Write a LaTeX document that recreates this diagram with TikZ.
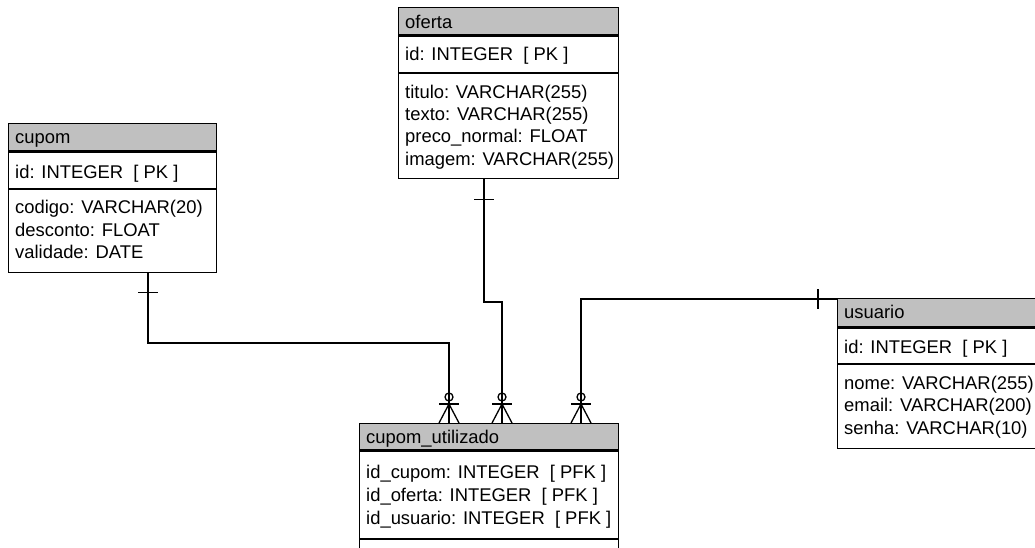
\documentclass[tikz,border=0pt]{standalone}
\usepackage{fontspec}
\setmainfont{Liberation Sans}
\usetikzlibrary{calc}
\tikzset{
  ln/.style={line width=1.3pt, line cap=rect, line join=miter},
  box/.style={ln, draw, fill=white, inner sep=0pt, anchor=north west},
  hdr/.style={ln, draw, fill=hdrgray, inner sep=0pt, anchor=north west},
  sect/.style={ln, draw, inner sep=0pt, anchor=north west},
  txt/.style={inner sep=0pt, anchor=base west, font=\fontsize{18.4}{22}\selectfont},
  rel/.style={ln, line cap=butt},
  manyopt/.pic={
    \draw[rel] (0,-26) circle[radius=4pt];
    \draw[rel] (-10,-19) -- (10,-19);
    \draw[rel] (-10,0) -- (0,-19) -- (10,0);
  }
}
\definecolor{hdrgray}{RGB}{192,192,192}
\begin{document}
\begin{tikzpicture}[x=1pt,y=-1pt]
\useasboundingbox (0,0) rectangle (1035,547);
\clip (0,0) rectangle (1035,547);
\fill[white] (0,0) rectangle (1035,547);

% ---- oferta ----
\node[box, minimum width=220pt, minimum height=171pt] (oferta) at (398,7) {};
\node[hdr, minimum width=220pt, minimum height=27pt] (oferta-h) at (oferta.north west) {};
\node[sect, minimum width=220pt, minimum height=37pt] (oferta-pk) at (oferta-h.south west) {};
\node[txt] (oferta-t) at ($(oferta.north west)+(7,21)$) {oferta};
\node[txt] (oferta-1) at ($(oferta.north west)+(7,53)$) {id: INTEGER\ \ [ PK ]};
\node[txt] (oferta-2) at ($(oferta.north west)+(7,91)$) {titulo: VARCHAR(255)};
\node[txt] (oferta-3) at ($(oferta.north west)+(7,113.5)$) {texto: VARCHAR(255)};
\node[txt] (oferta-4) at ($(oferta.north west)+(7,135.5)$) {preco\_normal: FLOAT};
\node[txt] (oferta-5) at ($(oferta.north west)+(7,158)$) {imagem: VARCHAR(255)};

% ---- cupom ----
\node[box, minimum width=208pt, minimum height=149pt] (cupom) at (8,123) {};
\node[hdr, minimum width=208pt, minimum height=27pt] (cupom-h) at (cupom.north west) {};
\node[sect, minimum width=208pt, minimum height=37pt] (cupom-pk) at (cupom-h.south west) {};
\node[txt] (cupom-t) at ($(cupom.north west)+(7,20)$) {cupom};
\node[txt] (cupom-1) at ($(cupom.north west)+(7,55)$) {id: INTEGER\ \ [ PK ]};
\node[txt] (cupom-2) at ($(cupom.north west)+(7,90.5)$) {codigo: VARCHAR(20)};
\node[txt] (cupom-3) at ($(cupom.north west)+(7,113)$) {desconto: FLOAT};
\node[txt] (cupom-4) at ($(cupom.north west)+(7,135.5)$) {validade: DATE};

% ---- cupom_utilizado ----
\node[box, minimum width=259pt, minimum height=177pt] (cu) at (359,423) {};
\node[hdr, minimum width=259pt, minimum height=26pt] (cu-h) at (cu.north west) {};
\node[sect, minimum width=259pt, minimum height=88pt] (cu-pk) at (cu-h.south west) {};
\node[txt] (cu-t) at ($(cu.north west)+(7,20)$) {cupom\_utilizado};
\node[txt] (cu-1) at ($(cu.north west)+(7,55)$) {id\_cupom: INTEGER\ \ [ PFK ]};
\node[txt] (cu-2) at ($(cu.north west)+(7,78)$) {id\_oferta: INTEGER\ \ [ PFK ]};
\node[txt] (cu-3) at ($(cu.north west)+(7,101)$) {id\_usuario: INTEGER\ \ [ PFK ]};

% ---- usuario ----
\node[box, minimum width=250pt, minimum height=150pt] (usuario) at (837,298) {};
\node[hdr, minimum width=250pt, minimum height=28pt] (usuario-h) at (usuario.north west) {};
\node[sect, minimum width=250pt, minimum height=36pt] (usuario-pk) at (usuario-h.south west) {};
\node[txt] (usuario-t) at ($(usuario.north west)+(7,20)$) {usuario};
\node[txt] (usuario-1) at ($(usuario.north west)+(7,55.5)$) {id: INTEGER\ \ [ PK ]};
\node[txt] (usuario-2) at ($(usuario.north west)+(7,91.5)$) {nome: VARCHAR(255)};
\node[txt] (usuario-3) at ($(usuario.north west)+(7,113.5)$) {email: VARCHAR(200)};
\node[txt] (usuario-4) at ($(usuario.north west)+(7,136.5)$) {senha: VARCHAR(10)};

% ---- connector end points ----
\coordinate (c1s) at ($(cupom.south west)+(140,0)$);
\coordinate (c1e) at ($(cu.north west)+(90,0)$);
\coordinate (c2s) at ($(oferta.south west)+(86,0)$);
\coordinate (c2e) at ($(cu.north west)+(143,0)$);
\coordinate (c3s) at ($(usuario.north west)+(0,1)$);
\coordinate (c3e) at ($(cu.north west)+(222,0)$);

% cupom -> cupom_utilizado
\draw[rel] (c1s) |- ($(c1e)+(0,-80)$) -- (c1e);
\draw[rel] ($(c1s)+(-10,19)$) -- ($(c1s)+(10,19)$);
\pic at (c1e) {manyopt};

% oferta -> cupom_utilizado
\draw[rel] (c2s) |- ($(c2e)+(0,-121)$) -- (c2e);
\draw[rel] ($(c2s)+(-10,20)$) -- ($(c2s)+(10,20)$);
\pic at (c2e) {manyopt};

% usuario -> cupom_utilizado
\draw[rel] (c3s) -| (c3e);
\draw[rel] ($(c3s)+(-19,-10)$) -- ($(c3s)+(-19,10)$);
\pic at (c3e) {manyopt};
\end{tikzpicture}
\end{document}
